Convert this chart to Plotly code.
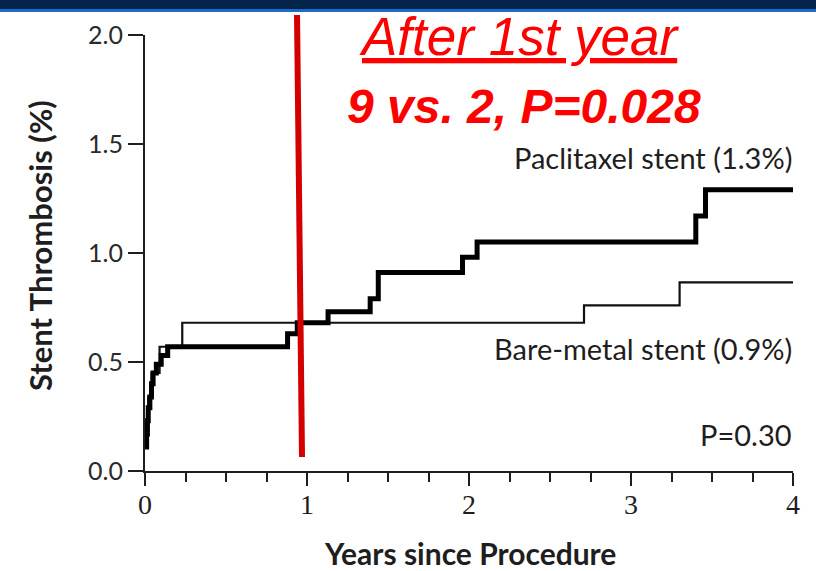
import plotly.graph_objects as go

# ---- data ----
pac_years = [0, 0.01, 0.015, 0.02, 0.03, 0.04, 0.05, 0.07, 0.10, 0.14,
             0.88, 0.94, 1.13, 1.39, 1.44, 1.96, 2.05, 3.40, 3.46, 4.0]
pac_pct = [0.11, 0.17, 0.23, 0.29, 0.34, 0.40, 0.45, 0.49, 0.53, 0.57,
           0.63, 0.68, 0.73, 0.79, 0.91, 0.98, 1.05, 1.17, 1.29, 1.29]

bms_years = [0, 0.01, 0.02, 0.04, 0.09, 0.23, 2.71, 3.30, 4.0]
bms_pct = [0.11, 0.23, 0.34, 0.45, 0.57, 0.68, 0.76, 0.865, 0.865]

y_ticks = [0.0, 0.5, 1.0, 1.5, 2.0]
y_ticktext = ["0.0", "0.5", "1.0", "1.5", "2.0"]
x_ticks = [0, 1, 2, 3, 4]

TXT = "#1e1e1e"

fig = go.Figure()
fig.add_trace(go.Scatter(x=bms_years, y=bms_pct, mode="lines", line_shape="hv",
                         line=dict(color="#111111", width=2.2), showlegend=False))
fig.add_trace(go.Scatter(x=pac_years, y=pac_pct, mode="lines", line_shape="hv",
                         line=dict(color="#000000", width=5), showlegend=False))

fig.update_layout(
    width=816, height=571,
    margin=dict(l=145, r=23, t=35, b=100),
    paper_bgcolor="white", plot_bgcolor="white",
    showlegend=False,
    xaxis=dict(range=[0, 4], tickvals=x_ticks, ticks="outside", ticklen=13, tickwidth=2,
               tickcolor=TXT, showline=True, linecolor=TXT, linewidth=2,
               showgrid=False, zeroline=False, ticklabelstandoff=-6,
               minor=dict(dtick=0.25, tick0=0, ticks="outside", ticklen=9, tickwidth=2,
                          tickcolor=TXT, showgrid=False),
               tickfont=dict(family="Liberation Serif", size=28, color=TXT)),
    yaxis=dict(range=[0, 2], tickvals=y_ticks, ticktext=y_ticktext, ticks="outside",
               ticklen=15, tickwidth=2, tickcolor=TXT, showline=True, linecolor=TXT,
               linewidth=2, showgrid=False, zeroline=False, ticklabelstandoff=0,
               tickfont=dict(family="Lato", size=25, color="#2a2a2a")),
)

# top banner
fig.add_shape(type="rect", xref="paper", yref="paper", x0=-0.3, x1=1.1, y0=1.0596, y1=1.2,
              fillcolor="#03254a", line=dict(width=0), layer="above")
fig.add_shape(type="rect", xref="paper", yref="paper", x0=-0.3, x1=1.1, y0=1.0528, y1=1.0596,
              fillcolor="#1f6cc8", line=dict(width=0), layer="above")

# red vertical marker line
fig.add_shape(type="line", xref="paper", yref="paper", x0=0.2346, y0=1.0459, x1=0.2423, y1=0.0321,
              line=dict(color="#d40000", width=6), layer="above")

ann = [
    dict(text="<i><u>After 1st year</u></i>", x=0.5787, y=0.996,
         font=dict(family="Liberation Sans", size=53, color="#ff0000"), xanchor="center"),
    dict(text="<b><i>9 vs. 2, P=0.028</i></b>", x=0.5849, y=0.837,
         font=dict(family="Liberation Sans", size=48, color="#ff0000"), xanchor="center"),
    dict(text="Paclitaxel stent (1.3%)", x=1.0, y=0.720,
         font=dict(family="Lato", size=29, color=TXT), xanchor="right"),
    dict(text="Bare-metal stent (0.9%)", x=1.0, y=0.282,
         font=dict(family="Lato", size=29, color=TXT), xanchor="right"),
    dict(text="P=0.30", x=1.0, y=0.0826,
         font=dict(family="Lato", size=29, color=TXT), xanchor="right"),
    dict(text="<b>Stent Thrombosis (%)</b>", x=-0.162, y=0.516, textangle=-90,
         font=dict(family="Lato", size=31, color=TXT), xanchor="center"),
    dict(text="<b>Years since Procedure</b>", x=0.5015, y=-0.188,
         font=dict(family="Lato", size=30, color=TXT), xanchor="center"),
]
for a in ann:
    fig.add_annotation(xref="paper", yref="paper", showarrow=False, yanchor="middle",
                       borderpad=0, **a)

fig.write_html("out.html")
